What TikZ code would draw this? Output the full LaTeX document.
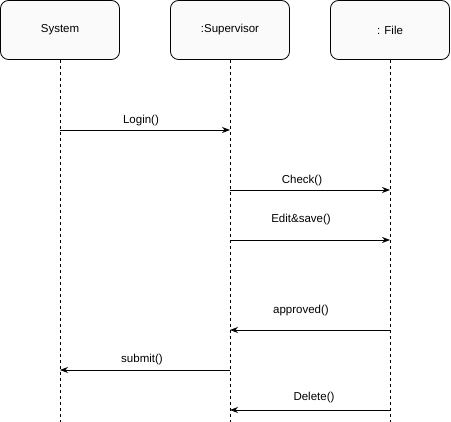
\documentclass[tikz,border=0pt]{standalone}
\usepackage{fontspec}
\setmainfont{Liberation Sans}
\usetikzlibrary{arrows.meta}
\tikzset{
  actor/.style={draw,rounded corners=8pt,fill=black!2,minimum width=119pt,minimum height=59pt,line width=0.8pt},
  life/.style={dash pattern=on 3pt off 3pt,line width=0.8pt},
  msg/.style={-{Stealth[length=8pt,width=6pt]},line width=0.8pt},
  lbl/.style={font=\fontsize{11.5}{13}\selectfont}
}
\begin{document}
\begin{tikzpicture}[x=1pt,y=-1pt,font=\fontsize{11.5}{13}\selectfont]
  \useasboundingbox (0,0) rectangle (451,422);
  % actors
  \node[actor] (system) at (60,30) {System};
  \node[actor] (supervisor) at (230,30) {:Supervisor};
  \node[actor] (file) at (390,30) {: File};
  % lifelines
  \coordinate (systemend) at (60,422);
  \coordinate (supervisorend) at (230,422);
  \coordinate (fileend) at (390,422);
  \draw[life] (system) -- (systemend);
  \draw[life] (supervisor) -- (supervisorend);
  \draw[life] (file) -- (fileend);
  % message points
  \coordinate (login1) at (60,130);
  \coordinate (login2) at (230,130);
  \coordinate (check1) at (230,190);
  \coordinate (check2) at (390,190);
  \coordinate (edit1) at (230,240);
  \coordinate (edit2) at (390,240);
  \coordinate (appr1) at (390,330);
  \coordinate (appr2) at (230,330);
  \coordinate (submit1) at (230,370);
  \coordinate (submit2) at (60,370);
  \coordinate (delete1) at (390,410);
  \coordinate (delete2) at (230,410);
  % messages
  \draw[msg] (login1) -- (login2);
  \draw[msg] (check1) -- (check2);
  \draw[msg] (edit1) -- (edit2);
  \draw[msg] (appr1) -- (appr2);
  \draw[msg] (submit1) -- (submit2);
  \draw[msg] (delete1) -- (delete2);
  % labels
  \node[lbl] (loginlbl) at (141,121) {Login()};
  \node[lbl] (checklbl) at (302,181) {Check()};
  \node[lbl] (editlbl) at (301,220) {Edit\&save()};
  \node[lbl] (apprlbl) at (301,311) {approved()};
  \node[lbl] (submitlbl) at (142,360) {submit()};
  \node[lbl] (deletelbl) at (314,398) {Delete()};
\end{tikzpicture}
\end{document}
